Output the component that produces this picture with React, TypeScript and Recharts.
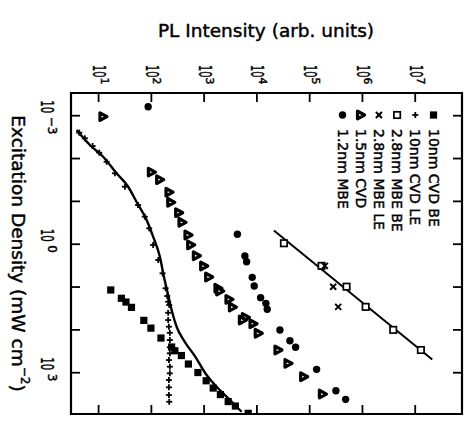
import { ScatterChart, Scatter, XAxis, YAxis, ReferenceArea } from 'recharts'

// PL intensity (arb. units) against excitation density (mW cm^-2).
// The figure is printed turned: intensity runs along the top, density runs downwards.

const SERIES_NAMES = ['10nm CVD BE', '10nm CVD LE', '2.8nm MBE BE', '2.8nm MBE LE', '1.5nm CVD', '1.2nm MBE']

// e = excitation density, p = PL intensity
const cvd10Be = [
  { e: 11.7, p: 17 }, { e: 18.3, p: 27 }, { e: 22.4, p: 33 }, { e: 29.8, p: 42 },
  { e: 60, p: 72 }, { e: 91, p: 98 }, { e: 155, p: 152 }, { e: 251, p: 242 },
  { e: 307, p: 279 }, { e: 397, p: 371 }, { e: 627, p: 503 }, { e: 990, p: 762 },
  { e: 1540, p: 1094 }, { e: 2280, p: 1486 }, { e: 3235, p: 2034 }, { e: 4710, p: 2858 },
  { e: 6000, p: 3910 }, { e: 8870, p: 6840 },
]

const cvd10Le = [
  { e: 0.00249, p: 4.3 }, { e: 0.00337, p: 5.5 }, { e: 0.0051, p: 7.7 }, { e: 0.0073, p: 10.3 },
  { e: 0.0119, p: 14.2 }, { e: 0.0221, p: 20.4 }, { e: 0.0455, p: 31.5 }, { e: 0.122, p: 56 },
  { e: 0.228, p: 75 }, { e: 0.426, p: 91 }, { e: 1.04, p: 108 }, { e: 2.34, p: 135 },
  { e: 4.78, p: 163 }, { e: 10.7, p: 186 }, { e: 16.2, p: 200 }, { e: 22, p: 208 },
  { e: 26.3, p: 218 }, { e: 39.8, p: 208 }, { e: 58.9, p: 208 }, { e: 84.4, p: 215 },
  { e: 117, p: 224 }, { e: 173, p: 224 }, { e: 255, p: 224 }, { e: 352, p: 224 },
  { e: 506, p: 215 }, { e: 724, p: 224 }, { e: 1033, p: 224 }, { e: 1482, p: 215 },
  { e: 2193, p: 215 }, { e: 3318, p: 215 }, { e: 4764, p: 218 },
]

const mbe28Be = [
  { e: 0.95, p: 3.25e4 }, { e: 3.2, p: 1.68e5 }, { e: 9.8, p: 5.0e5 },
  { e: 29, p: 1.15e6 }, { e: 100, p: 3.83e6 }, { e: 295, p: 1.28e7 },
]

const mbe28Le = [
  { e: 3.2, p: 1.94e5 }, { e: 9.8, p: 2.79e5 }, { e: 29, p: 3.47e5 },
]

const cvd15 = [
  { e: 0.00105, p: 12.2 }, { e: 0.0208, p: 101 }, { e: 0.0312, p: 145 }, { e: 0.0611, p: 218 },
  { e: 0.105, p: 235 }, { e: 0.184, p: 332 }, { e: 0.308, p: 384 }, { e: 0.61, p: 499 },
  { e: 1.04, p: 561 }, { e: 1.86, p: 719 }, { e: 3.23, p: 989 }, { e: 5.83, p: 1230 },
  { e: 10.7, p: 1846 }, { e: 12.4, p: 1990 }, { e: 19.4, p: 2985 }, { e: 29.3, p: 3460 },
  { e: 51, p: 6100 }, { e: 58.9, p: 5350 }, { e: 71.8, p: 8510 }, { e: 120, p: 10700 },
  { e: 295, p: 25300 }, { e: 604, p: 39200 }, { e: 1242, p: 77600 }, { e: 3148, p: 175800 },
]

const mbe12 = [
  { e: 0.000616, p: 87 }, { e: 0.587, p: 4266 }, { e: 1.89, p: 5916 }, { e: 2.56, p: 6380 },
  { e: 5.93, p: 8150 }, { e: 9.46, p: 8890 }, { e: 17.7, p: 11750 }, { e: 24, p: 14800 },
  { e: 33.1, p: 15700 }, { e: 101, p: 27300 }, { e: 179, p: 42200 }, { e: 255, p: 54100 },
  { e: 834, p: 135200 }, { e: 2636, p: 314000 }, { e: 4190, p: 480000 },
]

// straight line through the 2.8nm MBE BE points
const mbe28Fit = [{ e: 0.48, p: 2.1e4 }, { e: 490, p: 2.1e7 }]

// curve drawn along the 10nm CVD points
const cvd10Fit = [
  { e: 0.00216, p: 3.83 }, { e: 0.00483, p: 6.84 }, { e: 0.00906, p: 12.2 }, { e: 0.0221, p: 21.9 },
  { e: 0.0455, p: 36.4 }, { e: 0.1035, p: 52.5 }, { e: 0.272, p: 81.3 }, { e: 0.668, p: 108 },
  { e: 1.96, p: 145 }, { e: 5.74, p: 173 }, { e: 15.3, p: 208 }, { e: 34.4, p: 242 },
  { e: 84.5, p: 301 }, { e: 192, p: 432 }, { e: 408, p: 668 }, { e: 1132, p: 1114 },
  { e: 2123, p: 1722 }, { e: 3639, p: 2667 }, { e: 6223, p: 4121 }, { e: 8147, p: 5129 },
]

const X_DOMAIN = [3, 7.7e7]
const Y_DOMAIN = [2.95e-4, 9.2e3]
const X_TICKS = [1e1, 1e2, 1e3, 1e4, 1e5, 1e6, 1e7]
const Y_TICKS = [1e-3, 1e-2, 1e-1, 1e0, 1e1, 1e2, 1e3]
const Y_LABELLED = [-3, 0, 3]

const W = 475
const H = 423
const LEFT = 71
const TOP = 93
const RIGHT = 462
const BOTTOM = 414
const TICK = 9
const FONT = '"DejaVu Sans", sans-serif'
// the print is a bit heavy, so text gets a thin outline
const INK = { fill: '#000', stroke: '#000', strokeWidth: 0.45 }

type Kind = 'fsquare' | 'plus' | 'osquare' | 'cross' | 'triangle' | 'circle'
const KINDS: Kind[] = ['fsquare', 'plus', 'osquare', 'cross', 'triangle', 'circle']

function Marker({ kind, cx, cy }: { kind: Kind; cx: number; cy: number }) {
  if (cx == null || cy == null) return <g />
  switch (kind) {
    case 'fsquare':
      return <rect x={cx - 3.6} y={cy - 3.6} width={7.2} height={7.2} fill="#000" />
    case 'plus':
      return (
        <g stroke="#000" strokeWidth={1.8}>
          <line x1={cx - 3} y1={cy} x2={cx + 3} y2={cy} />
          <line x1={cx} y1={cy - 3} x2={cx} y2={cy + 3} />
        </g>
      )
    case 'osquare':
      return <rect x={cx - 3.2} y={cy - 3.2} width={6.4} height={6.4} fill="#fff" stroke="#000" strokeWidth={1.7} />
    case 'cross':
      return (
        <g stroke="#000" strokeWidth={2}>
          <line x1={cx - 3} y1={cy - 3} x2={cx + 3} y2={cy + 3} />
          <line x1={cx - 3} y1={cy + 3} x2={cx + 3} y2={cy - 3} />
        </g>
      )
    case 'triangle':
      return (
        <polygon
          points={`${cx - 3.2},${cy - 3.8} ${cx - 3.2},${cy + 3.8} ${cx + 3.8},${cy}`}
          fill="#fff"
          stroke="#000"
          strokeWidth={3.2}
          strokeLinejoin="round"
        />
      )
    default:
      return <circle cx={cx} cy={cy} r={3.7} fill="#000" />
  }
}

function PlTick({ x, payload }: any) {
  const exp = Math.round(Math.log10(payload.value))
  return (
    <g>
      <line x1={x} y1={TOP} x2={x} y2={TOP + TICK} stroke="#000" strokeWidth={1.8} />
      <line x1={x} y1={BOTTOM} x2={x} y2={BOTTOM - TICK} stroke="#000" strokeWidth={1.8} />
      <text
        x={x + 1}
        y={65}
        transform={`rotate(90 ${x + 1} 65)`}
        fontSize={18}
        fontFamily={FONT}
        textLength={12.5}
        lengthAdjust="spacingAndGlyphs"
        dominantBaseline="central"
        {...INK}
      >
        10
      </text>
      <text
        x={x + 5.5}
        y={77.5}
        transform={`rotate(90 ${x + 5.5} 77.5)`}
        fontSize={11}
        fontFamily={FONT}
        dominantBaseline="central"
        {...INK}
      >
        {exp}
      </text>
    </g>
  )
}

function DensityTick({ y, payload }: any) {
  const exp = Math.round(Math.log10(payload.value))
  const sup = exp < 0 ? '\u2212' + -exp : String(exp)
  return (
    <g>
      <line x1={LEFT} y1={y} x2={LEFT + TICK} y2={y} stroke="#000" strokeWidth={1.8} />
      <line x1={RIGHT} y1={y} x2={RIGHT - TICK} y2={y} stroke="#000" strokeWidth={1.8} />
      {Y_LABELLED.includes(exp) && (
        <>
          <text
            x={47}
            y={y - 15.5}
            transform={`rotate(90 47 ${y - 15.5})`}
            fontSize={18}
            fontFamily={FONT}
            textLength={13}
            lengthAdjust="spacingAndGlyphs"
            dominantBaseline="central"
            {...INK}
          >
            10
          </text>
          <text
            x={51.5}
            y={y + 1}
            transform={`rotate(90 51.5 ${y + 1})`}
            fontSize={12}
            fontFamily={FONT}
            dominantBaseline="central"
            {...INK}
          >
            {sup}
          </text>
        </>
      )}
    </g>
  )
}

const hidden = () => <g />

export default function App() {
  const series = [cvd10Be, cvd10Le, mbe28Be, mbe28Le, cvd15, mbe12]
  return (
    <div style={{ position: 'absolute', left: 0, top: 0, width: W, height: H, background: '#fff', fontFamily: FONT }}>
      <ScatterChart width={W} height={H} margin={{ top: 0, left: 0, right: W - RIGHT, bottom: H - BOTTOM }}>
        <XAxis
          xAxisId={0}
          type="number"
          dataKey="p"
          scale="log"
          orientation="top"
          domain={X_DOMAIN}
          allowDataOverflow
          ticks={X_TICKS}
          interval={0}
          height={TOP}
          axisLine={false}
          tickLine={false}
          tick={(props: any) => <PlTick {...props} />}
        />
        <YAxis
          yAxisId={0}
          type="number"
          dataKey="e"
          scale="log"
          domain={Y_DOMAIN}
          allowDataOverflow
          reversed
          ticks={Y_TICKS}
          interval={0}
          width={LEFT}
          axisLine={false}
          tickLine={false}
          tick={(props: any) => <DensityTick {...props} />}
        />
        <ReferenceArea
          x1={X_DOMAIN[0]}
          x2={X_DOMAIN[1]}
          y1={Y_DOMAIN[0]}
          y2={Y_DOMAIN[1]}
          fill="none"
          fillOpacity={0}
          stroke="#000"
          strokeWidth={2.2}
          ifOverflow="visible"
        />
        <Scatter
          data={cvd10Fit}
          line={{ stroke: '#000', strokeWidth: 2.4 }}
          lineJointType="monotoneX"
          shape={hidden}
          isAnimationActive={false}
        />
        <Scatter
          data={mbe28Fit}
          line={{ stroke: '#000', strokeWidth: 2 }}
          shape={hidden}
          isAnimationActive={false}
        />
        {series.map((data, i) => (
          <Scatter
            key={SERIES_NAMES[i]}
            name={SERIES_NAMES[i]}
            data={data}
            isAnimationActive={false}
            shape={(props: any) => <Marker kind={KINDS[i]} cx={props.cx} cy={props.cy} />}
          />
        ))}
      </ScatterChart>

      <svg width={W} height={H} style={{ position: 'absolute', left: 0, top: 0, pointerEvents: 'none' }}>
        <text x={266} y={36.5} textAnchor="middle" fontSize={18.5} fontFamily={FONT} {...INK}>
          PL Intensity (arb. units)
        </text>
        <text
          x={18}
          y={253.5}
          transform="rotate(90 18 253.5)"
          textAnchor="middle"
          dominantBaseline="central"
          fontSize={18.5}
          fontFamily={FONT}
          {...INK}
        >
          Excitation Density (mW cm
          <tspan dy={-7} fontSize={12}>{'\u22122'}</tspan>
          <tspan dy={7} fontSize={18.5}>)</tspan>
        </text>
        {SERIES_NAMES.map((name, i) => {
          const cx = 433.5 - i * 18.2
          return (
            <g key={name}>
              <Marker kind={KINDS[i]} cx={cx} cy={115} />
              <text
                x={cx}
                y={129}
                transform={`rotate(90 ${cx} 129)`}
                dominantBaseline="central"
                fontSize={14}
                fontFamily={FONT}
                {...INK}
              >
                {name}
              </text>
            </g>
          )
        })}
      </svg>
    </div>
  )
}
